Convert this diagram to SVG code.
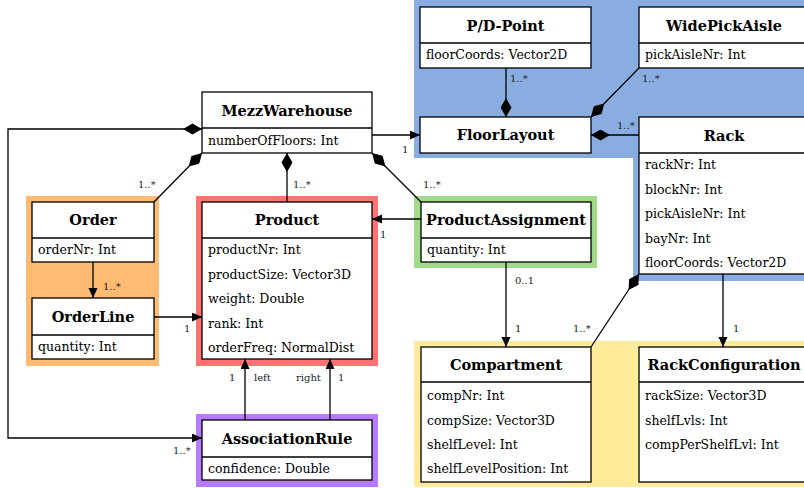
<svg xmlns="http://www.w3.org/2000/svg" width="804" height="488" viewBox="0 0 804 488">
  <style>
    .box { fill: #ffffff; stroke: #000000; stroke-width: 1.3; }
    .sep { stroke: #000000; stroke-width: 1.3; }
    .title { font-family: 'DejaVu Serif', 'Liberation Serif', serif; font-size: 14.5px; font-weight: bold; text-anchor: middle; fill: #000; }
    .attr { font-family: 'DejaVu Serif', 'Liberation Serif', serif; font-size: 12.5px; fill: #000; }
    .lbl { font-family: 'DejaVu Serif', 'Liberation Serif', serif; font-size: 10px; fill: #222; }
    .conn { fill: none; stroke: #000000; stroke-width: 1.3; }
    .arrow { marker-end: url(#arrow); }
    .comp { marker-start: url(#diamond); }
  </style>
  <defs>
    <marker id="arrow" markerUnits="userSpaceOnUse" markerWidth="11" markerHeight="10" refX="10" refY="4.5" orient="auto">
      <path d="M0,0 L10,4.5 L0,9 Z" fill="#000"/>
    </marker>
    <marker id="diamond" markerUnits="userSpaceOnUse" markerWidth="20" markerHeight="12" refX="0" refY="5.5" orient="auto">
      <path d="M0,5.5 L9.5,0 L19,5.5 L9.5,11 Z" fill="#000"/>
    </marker>
  </defs>

  <!-- package backgrounds -->
  <g id="regions">
    <path d="M414,0 H804 V281 H633 V158 H414 Z" fill="#8aade1"/>
    <rect x="414" y="341" width="390" height="146" fill="#ffeb99"/>
    <rect x="26" y="196" width="133" height="170" fill="#ffbb72"/>
    <rect x="196" y="196" width="182" height="170" fill="#ff7373"/>
    <rect x="414" y="196" width="183" height="72" fill="#a3d98a"/>
    <rect x="196" y="414" width="182" height="73" fill="#b77bfd"/>
  </g>

  <!-- connectors -->
  <g id="connectors">
    <path class="conn arrow" d="M372,135 H420"/>
    <path class="conn comp arrow" d="M202,129 H8 V438 H202"/>
    <path class="conn comp" d="M202,153 L154,202"/>
    <path class="conn comp" d="M287,153 V202"/>
    <path class="conn comp" d="M372,153 L421,202"/>
    <path class="conn comp" d="M506,117 V68"/>
    <path class="conn comp" d="M591,117 L639,68"/>
    <path class="conn comp" d="M591,135 H639"/>
    <path class="conn arrow" d="M93,262 V298"/>
    <path class="conn arrow" d="M154,317 H202"/>
    <path class="conn arrow" d="M421,219 H372"/>
    <path class="conn arrow" d="M506,262 V347"/>
    <path class="conn comp" d="M639,274 L591,347"/>
    <path class="conn arrow" d="M723,274 V347"/>
    <path class="conn arrow" d="M245,420 V359"/>
    <path class="conn arrow" d="M330,420 V359"/>

    <text class="lbl" x="402" y="153">1</text>
    <text class="lbl" x="173" y="454">1..*</text>
    <text class="lbl" x="138" y="188">1..*</text>
    <text class="lbl" x="293" y="188">1..*</text>
    <text class="lbl" x="423" y="188">1..*</text>
    <text class="lbl" x="510" y="82">1..*</text>
    <text class="lbl" x="642" y="82">1..*</text>
    <text class="lbl" x="617" y="129">1..*</text>
    <text class="lbl" x="103" y="290">1..*</text>
    <text class="lbl" x="184" y="332">1</text>
    <text class="lbl" x="380" y="238">1</text>
    <text class="lbl" x="515" y="284">0..1</text>
    <text class="lbl" x="515" y="332">1</text>
    <text class="lbl" x="573" y="332">1..*</text>
    <text class="lbl" x="733" y="332">1</text>
    <text class="lbl" x="229" y="381">1</text>
    <text class="lbl" x="254" y="381">left</text>
    <text class="lbl" x="296" y="381">right</text>
    <text class="lbl" x="338" y="381">1</text>
  </g>

  <g id="MezzWarehouse">
    <rect class="box" x="202" y="92" width="170" height="61"/>
    <line class="sep" x1="202" y1="128" x2="372" y2="128"/>
    <text class="title" x="287" y="116">MezzWarehouse</text>
    <text class="attr" x="208" y="145">numberOfFloors: Int</text>
  </g>

  <g id="PDPoint">
    <rect class="box" x="420" y="7" width="171" height="61"/>
    <line class="sep" x1="420" y1="43" x2="591" y2="43"/>
    <text class="title" x="505.5" y="31">P/D-Point</text>
    <text class="attr" x="426" y="59">floorCoords: Vector2D</text>
  </g>

  <g id="WidePickAisle">
    <rect class="box" x="639" y="7" width="170" height="61"/>
    <line class="sep" x1="639" y1="43" x2="809" y2="43"/>
    <text class="title" x="724" y="31">WidePickAisle</text>
    <text class="attr" x="645" y="59">pickAisleNr: Int</text>
  </g>

  <g id="FloorLayout">
    <rect class="box" x="420" y="117" width="171" height="36"/>
    <text class="title" x="505.5" y="140">FloorLayout</text>
  </g>

  <g id="Rack">
    <rect class="box" x="639" y="117" width="170" height="157"/>
    <line class="sep" x1="639" y1="153" x2="809" y2="153"/>
    <text class="title" x="724" y="141">Rack</text>
    <text class="attr" x="645" y="169">rackNr: Int</text>
    <text class="attr" x="645" y="193.5">blockNr: Int</text>
    <text class="attr" x="645" y="218">pickAisleNr: Int</text>
    <text class="attr" x="645" y="242.5">bayNr: Int</text>
    <text class="attr" x="645" y="267">floorCoords: Vector2D</text>
  </g>

  <g id="Order">
    <rect class="box" x="32" y="202" width="122" height="60"/>
    <line class="sep" x1="32" y1="238" x2="154" y2="238"/>
    <text class="title" x="93" y="225">Order</text>
    <text class="attr" x="38" y="254">orderNr: Int</text>
  </g>

  <g id="OrderLine">
    <rect class="box" x="32" y="298" width="122" height="61"/>
    <line class="sep" x1="32" y1="335" x2="154" y2="335"/>
    <text class="title" x="93" y="322">OrderLine</text>
    <text class="attr" x="38" y="351">quantity: Int</text>
  </g>

  <g id="Product">
    <rect class="box" x="202" y="202" width="170" height="157"/>
    <line class="sep" x1="202" y1="238" x2="372" y2="238"/>
    <text class="title" x="287" y="225">Product</text>
    <text class="attr" x="208" y="254">productNr: Int</text>
    <text class="attr" x="208" y="278.5">productSize: Vector3D</text>
    <text class="attr" x="208" y="303">weight: Double</text>
    <text class="attr" x="208" y="327.5">rank: Int</text>
    <text class="attr" x="208" y="352">orderFreq: NormalDist</text>
  </g>

  <g id="ProductAssignment">
    <rect class="box" x="421" y="202" width="170" height="60"/>
    <line class="sep" x1="421" y1="238" x2="591" y2="238"/>
    <text class="title" x="506" y="225">ProductAssignment</text>
    <text class="attr" x="427" y="254">quantity: Int</text>
  </g>

  <g id="Compartment">
    <rect class="box" x="421" y="347" width="170" height="135"/>
    <line class="sep" x1="421" y1="382" x2="591" y2="382"/>
    <text class="title" x="506" y="370">Compartment</text>
    <text class="attr" x="427" y="400">compNr: Int</text>
    <text class="attr" x="427" y="424.5">compSize: Vector3D</text>
    <text class="attr" x="427" y="449">shelfLevel: Int</text>
    <text class="attr" x="427" y="473">shelfLevelPosition: Int</text>
  </g>

  <g id="RackConfiguration">
    <rect class="box" x="639" y="347" width="170" height="135"/>
    <line class="sep" x1="639" y1="382" x2="809" y2="382"/>
    <text class="title" x="724" y="370">RackConfiguration</text>
    <text class="attr" x="645" y="400">rackSize: Vector3D</text>
    <text class="attr" x="645" y="424.5">shelfLvls: Int</text>
    <text class="attr" x="645" y="449">compPerShelfLvl: Int</text>
  </g>

  <g id="AssociationRule">
    <rect class="box" x="202" y="420" width="170" height="60"/>
    <line class="sep" x1="202" y1="457" x2="372" y2="457"/>
    <text class="title" x="287" y="444">AssociationRule</text>
    <text class="attr" x="208" y="473">confidence: Double</text>
  </g>
</svg>
